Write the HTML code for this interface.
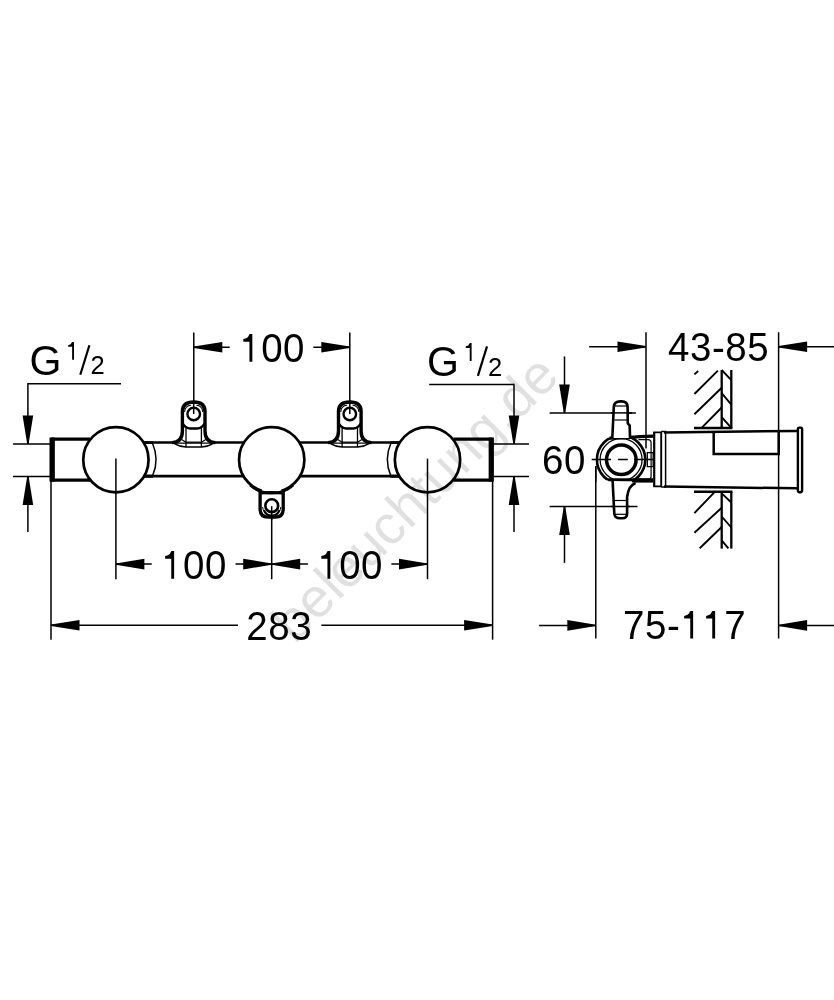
<!DOCTYPE html>
<html><head><meta charset="utf-8"><style>
html,body{margin:0;padding:0;background:#fff;}
body{width:834px;height:1000px;overflow:hidden;}
svg{display:block;will-change:transform;}
text{font-family:"Liberation Sans",sans-serif;fill:#000;stroke:none;}
.g{font-size:42.8px;}
.wm{font-size:55.1px;fill:#000;fill-opacity:0.12;}
</style></head><body>
<svg width="834" height="1000" viewBox="0 0 834 1000" stroke="#000" fill="#000" stroke-linecap="butt">
<line x1="193.80" y1="332.50" x2="193.80" y2="414.00" stroke-width="1.50"/>
<line x1="349.80" y1="332.50" x2="349.80" y2="414.00" stroke-width="1.50"/>
<polygon points="193.80,346.60 222.30,342.00 222.30,352.60 193.80,348.00" stroke="none"/>
<line x1="193.80" y1="347.30" x2="229.70" y2="347.30" stroke-width="1.50"/>
<polygon points="349.80,346.60 321.30,342.00 321.30,352.60 349.80,348.00" stroke="none"/>
<line x1="313.30" y1="347.30" x2="349.80" y2="347.30" stroke-width="1.50"/>
<path d="M0.2513,0 V-0.505 H0.097 V-0.573 Q0.215,-0.586 0.2424,-0.682 L0.26,-0.6995 H0.324 V0 Z" transform="translate(239.50,361.70) scale(39.600)" stroke="none"/><text transform="translate(261.30,361.70) scale(0.950,1)" style="font-size:40.50px">0</text><text transform="translate(283.10,361.70) scale(0.950,1)" style="font-size:40.50px">0</text>
<line x1="115.90" y1="459.00" x2="115.90" y2="579.20" stroke-width="1.50"/>
<line x1="271.70" y1="506.00" x2="271.70" y2="579.20" stroke-width="1.50"/>
<line x1="427.50" y1="459.00" x2="427.50" y2="579.20" stroke-width="1.50"/>
<polygon points="115.90,563.40 144.40,558.80 144.40,569.40 115.90,564.80" stroke="none"/>
<line x1="115.90" y1="564.10" x2="151.80" y2="564.10" stroke-width="1.50"/>
<polygon points="271.70,563.40 243.20,558.80 243.20,569.40 271.70,564.80" stroke="none"/>
<line x1="235.50" y1="564.10" x2="271.70" y2="564.10" stroke-width="1.50"/>
<polygon points="271.70,563.40 300.20,558.80 300.20,569.40 271.70,564.80" stroke="none"/>
<line x1="271.70" y1="564.10" x2="307.90" y2="564.10" stroke-width="1.50"/>
<polygon points="427.50,563.40 399.00,558.80 399.00,569.40 427.50,564.80" stroke="none"/>
<line x1="391.40" y1="564.10" x2="427.50" y2="564.10" stroke-width="1.50"/>
<path d="M0.2513,0 V-0.505 H0.097 V-0.573 Q0.215,-0.586 0.2424,-0.682 L0.26,-0.6995 H0.324 V0 Z" transform="translate(161.30,578.80) scale(39.600)" stroke="none"/><text transform="translate(183.10,578.80) scale(0.950,1)" style="font-size:40.50px">0</text><text transform="translate(204.90,578.80) scale(0.950,1)" style="font-size:40.50px">0</text>
<path d="M0.2513,0 V-0.505 H0.097 V-0.573 Q0.215,-0.586 0.2424,-0.682 L0.26,-0.6995 H0.324 V0 Z" transform="translate(317.50,578.80) scale(39.600)" stroke="none"/><text transform="translate(339.30,578.80) scale(0.950,1)" style="font-size:40.50px">0</text><text transform="translate(361.10,578.80) scale(0.950,1)" style="font-size:40.50px">0</text>
<line x1="51.00" y1="481.00" x2="51.00" y2="639.70" stroke-width="1.50"/>
<line x1="492.60" y1="481.00" x2="492.60" y2="639.70" stroke-width="1.50"/>
<polygon points="51.00,624.50 79.50,619.90 79.50,630.50 51.00,625.90" stroke="none"/>
<line x1="51.00" y1="625.20" x2="238.00" y2="625.20" stroke-width="1.50"/>
<polygon points="492.60,624.50 464.10,619.90 464.10,630.50 492.60,625.90" stroke="none"/>
<line x1="321.30" y1="625.20" x2="492.60" y2="625.20" stroke-width="1.50"/>
<text transform="translate(246.30,639.70) scale(0.950,1)" style="font-size:40.50px">2</text><text transform="translate(268.30,639.70) scale(0.950,1)" style="font-size:40.50px">8</text><text transform="translate(290.30,639.70) scale(0.950,1)" style="font-size:40.50px">3</text>
<line x1="27.90" y1="383.80" x2="121.00" y2="383.80" stroke-width="1.50"/>
<line x1="27.90" y1="383.10" x2="27.90" y2="443.90" stroke-width="1.50"/>
<polygon points="27.20,443.90 22.60,415.40 33.20,415.40 28.60,443.90" stroke="none"/>
<line x1="13.00" y1="443.90" x2="50.00" y2="443.90" stroke-width="1.50"/>
<line x1="13.00" y1="476.40" x2="50.00" y2="476.40" stroke-width="1.50"/>
<polygon points="27.20,476.40 22.60,504.90 33.20,504.90 28.60,476.40" stroke="none"/>
<line x1="27.90" y1="476.40" x2="27.90" y2="532.00" stroke-width="1.50"/>
<text class="g" transform="translate(29.5,374.6) scale(0.959,1)">G</text><path d="M0.2513,0 V-0.505 H0.097 V-0.573 Q0.215,-0.586 0.2424,-0.682 L0.26,-0.6995 H0.324 V0 Z" transform="translate(65.70,359.80) scale(25.600)" stroke="none"/><text transform="translate(90.50,374.40) scale(1.000,1)" style="font-size:25.50px">2</text>
<line x1="80.30" y1="374.70" x2="89.40" y2="345.20" stroke-width="2.20"/>
<line x1="429.20" y1="384.50" x2="514.00" y2="384.50" stroke-width="1.50"/>
<line x1="514.00" y1="383.80" x2="514.00" y2="443.90" stroke-width="1.50"/>
<polygon points="513.30,443.90 508.70,415.40 519.30,415.40 514.70,443.90" stroke="none"/>
<line x1="493.00" y1="443.90" x2="529.00" y2="443.90" stroke-width="1.50"/>
<line x1="493.00" y1="476.40" x2="529.00" y2="476.40" stroke-width="1.50"/>
<polygon points="513.30,476.40 508.70,504.90 519.30,504.90 514.70,476.40" stroke="none"/>
<line x1="514.00" y1="476.40" x2="514.00" y2="532.00" stroke-width="1.50"/>
<text class="g" transform="translate(427.1,375.8) scale(0.959,1)">G</text><path d="M0.2513,0 V-0.505 H0.097 V-0.573 Q0.215,-0.586 0.2424,-0.682 L0.26,-0.6995 H0.324 V0 Z" transform="translate(463.30,361.00) scale(25.600)" stroke="none"/><text transform="translate(488.10,375.60) scale(1.000,1)" style="font-size:25.50px">2</text>
<line x1="477.90" y1="375.90" x2="487.00" y2="346.40" stroke-width="2.20"/>
<path d="M90,439.15 H53 V480.1 H90" stroke-width="3.20" fill="none"/>
<rect x="49.5" y="437.5" width="5.1" height="44.1" stroke="none"/>
<path d="M453.4,439.15 H490.4 V480.1 H453.4" stroke-width="3.20" fill="none"/>
<rect x="488.8" y="437.5" width="5.1" height="44.1" stroke="none"/>
<line x1="140.00" y1="442.60" x2="404.00" y2="442.60" stroke-width="2.50"/>
<line x1="140.00" y1="476.20" x2="404.00" y2="476.20" stroke-width="2.80"/>
<path d="M152.5,443.3 Q159.6,459.5 152.7,475.5" stroke-width="1.50" fill="none"/>
<path d="M390.9,443.3 Q383.8,459.5 390.7,475.5" stroke-width="1.50" fill="none"/>
<line x1="144.00" y1="442.60" x2="153.00" y2="442.60" stroke-width="2.60"/>
<line x1="144.00" y1="476.20" x2="153.00" y2="476.20" stroke-width="3.00"/>
<line x1="390.40" y1="442.60" x2="399.40" y2="442.60" stroke-width="2.60"/>
<line x1="390.40" y1="476.20" x2="399.40" y2="476.20" stroke-width="3.00"/>
<circle cx="115.90" cy="459.70" r="32.65" stroke-width="2.7" fill="#fff"/>
<circle cx="271.70" cy="459.70" r="32.65" stroke-width="2.7" fill="#fff"/>
<circle cx="427.50" cy="459.70" r="32.65" stroke-width="2.7" fill="#fff"/>
<line x1="115.90" y1="458.60" x2="115.90" y2="494.00" stroke-width="1.50"/>
<line x1="427.50" y1="458.60" x2="427.50" y2="494.00" stroke-width="1.50"/>
<g transform="translate(0.00,0)"><path d="M174,442.6 C180.5,442.2 182.4,437 182.4,431 V411.5 Q182.4,402 193.7,402 Q205,402 205,411.5 V431 C205,437 206.9,442.2 213.4,442.6 Z" stroke-width="0.00" fill="#fff" stroke="none"/><path d="M172,442.6 C180.5,442.2 182.4,437 182.4,431 V411.5 Q182.4,402 193.7,402 Q205,402 205,411.5 V431 C205,437 206.9,442.2 215.4,442.6" stroke-width="3.40" fill="none"/><path d="M183.6,409 Q183.6,402.6 193.7,402.6 Q203.8,402.6 203.8,409" stroke-width="2.00" fill="none"/><path d="M186,447 V426 M201.4,447 V426" stroke-width="1.30" fill="none"/><path d="M184.6,412 Q185.2,405.6 191,405.3 M196.4,405.3 Q202.2,405.6 202.8,412" stroke-width="1.10" fill="none"/><circle cx="193.7" cy="414" r="6.3" stroke-width="2.4" fill="#fff"/><path d="M182.6,423.6 Q186,428.4 190,428.4 H197.4 Q201.4,428.4 204.8,423.6" stroke-width="2.50" fill="none"/><path d="M185.9,442.2 H201.5" stroke-width="1.30" fill="none"/><path d="M181.6,439.5 L185.9,442.2 M205.8,439.5 L201.5,442.2" stroke-width="1.20" fill="none"/><path d="M174.5,443.6 Q180,447 185.9,447 H201.5 Q207.4,447 212.9,443.6" stroke-width="1.70" fill="none"/><line x1="193.70" y1="401.00" x2="193.70" y2="414.00" stroke-width="1.50"/></g>
<g transform="translate(156.10,0)"><path d="M174,442.6 C180.5,442.2 182.4,437 182.4,431 V411.5 Q182.4,402 193.7,402 Q205,402 205,411.5 V431 C205,437 206.9,442.2 213.4,442.6 Z" stroke-width="0.00" fill="#fff" stroke="none"/><path d="M172,442.6 C180.5,442.2 182.4,437 182.4,431 V411.5 Q182.4,402 193.7,402 Q205,402 205,411.5 V431 C205,437 206.9,442.2 215.4,442.6" stroke-width="3.40" fill="none"/><path d="M183.6,409 Q183.6,402.6 193.7,402.6 Q203.8,402.6 203.8,409" stroke-width="2.00" fill="none"/><path d="M186,447 V426 M201.4,447 V426" stroke-width="1.30" fill="none"/><path d="M184.6,412 Q185.2,405.6 191,405.3 M196.4,405.3 Q202.2,405.6 202.8,412" stroke-width="1.10" fill="none"/><circle cx="193.7" cy="414" r="6.3" stroke-width="2.4" fill="#fff"/><path d="M182.6,423.6 Q186,428.4 190,428.4 H197.4 Q201.4,428.4 204.8,423.6" stroke-width="2.50" fill="none"/><path d="M185.9,442.2 H201.5" stroke-width="1.30" fill="none"/><path d="M181.6,439.5 L185.9,442.2 M205.8,439.5 L201.5,442.2" stroke-width="1.20" fill="none"/><path d="M174.5,443.6 Q180,447 185.9,447 H201.5 Q207.4,447 212.9,443.6" stroke-width="1.70" fill="none"/><line x1="193.70" y1="401.00" x2="193.70" y2="414.00" stroke-width="1.50"/></g>
<path d="M260.1,489 V509 Q260.1,517.1 268,517.1 H275.5 Q283.2,517.1 283.2,509 V489" stroke-width="3.30" fill="#fff"/>
<path d="M264,510 Q265.5,515.6 271.7,515.6 Q277.9,515.6 279.4,510" stroke-width="2.20" fill="none"/>
<path d="M261,493.2 Q271.7,491.8 282.4,493.2" stroke-width="2.80" fill="none"/>
<path d="M262.6,507 Q263.2,512.6 267.5,513.6 M280.8,507 Q280.2,512.6 275.9,513.6" stroke-width="1.00" fill="none"/>
<circle cx="271.75" cy="505.7" r="6.4" stroke-width="2.6" fill="#fff"/>
<line x1="271.70" y1="506.20" x2="271.70" y2="520.00" stroke-width="1.50"/>
<path d="M250,485 A32.65,32.65 0 0 0 293.4,485" stroke-width="2.7" fill="none"/>
<line x1="646.00" y1="332.20" x2="646.00" y2="435.20" stroke-width="1.50"/>
<line x1="778.60" y1="332.20" x2="778.60" y2="638.50" stroke-width="1.50"/>
<line x1="589.10" y1="346.80" x2="646.00" y2="346.80" stroke-width="1.50"/>
<polygon points="646.00,346.10 617.50,341.50 617.50,352.10 646.00,347.50" stroke="none"/>
<line x1="778.60" y1="346.80" x2="834.00" y2="346.80" stroke-width="1.50"/>
<polygon points="778.60,346.10 807.10,341.50 807.10,352.10 778.60,347.50" stroke="none"/>
<text transform="translate(668.00,361.00) scale(0.950,1)" style="font-size:40.50px">4</text><text transform="translate(690.00,361.00) scale(0.950,1)" style="font-size:40.50px">3</text><text transform="translate(712.00,361.00) scale(0.950,1)" style="font-size:40.50px">-</text><text transform="translate(725.20,361.00) scale(0.950,1)" style="font-size:40.50px">8</text><text transform="translate(747.20,361.00) scale(0.950,1)" style="font-size:40.50px">5</text>
<line x1="564.50" y1="356.40" x2="564.50" y2="412.90" stroke-width="1.50"/>
<polygon points="563.80,412.90 559.20,384.40 569.80,384.40 565.20,412.90" stroke="none"/>
<line x1="549.60" y1="412.90" x2="635.90" y2="412.90" stroke-width="1.50"/>
<line x1="549.60" y1="506.50" x2="637.50" y2="506.50" stroke-width="1.50"/>
<polygon points="563.80,506.50 559.20,535.00 569.80,535.00 565.20,506.50" stroke="none"/>
<line x1="564.50" y1="506.50" x2="564.50" y2="562.90" stroke-width="1.50"/>
<text transform="translate(542.00,474.10) scale(0.950,1)" style="font-size:40.50px">6</text><text transform="translate(564.00,474.10) scale(0.950,1)" style="font-size:40.50px">0</text>
<line x1="595.80" y1="466.00" x2="595.80" y2="638.50" stroke-width="1.50"/>
<line x1="539.10" y1="625.40" x2="595.80" y2="625.40" stroke-width="1.50"/>
<polygon points="595.80,624.70 567.30,620.10 567.30,630.70 595.80,626.10" stroke="none"/>
<line x1="778.60" y1="625.40" x2="834.00" y2="625.40" stroke-width="1.50"/>
<polygon points="778.60,624.70 807.10,620.10 807.10,630.70 778.60,626.10" stroke="none"/>
<text transform="translate(623.10,638.60) scale(0.950,1)" style="font-size:40.50px">7</text><text transform="translate(645.10,638.60) scale(0.950,1)" style="font-size:40.50px">5</text><text transform="translate(667.10,638.60) scale(0.950,1)" style="font-size:40.50px">-</text><path d="M0.2513,0 V-0.505 H0.097 V-0.573 Q0.215,-0.586 0.2424,-0.682 L0.26,-0.6995 H0.324 V0 Z" transform="translate(680.30,638.60) scale(39.600)" stroke="none"/><path d="M0.2513,0 V-0.505 H0.097 V-0.573 Q0.215,-0.586 0.2424,-0.682 L0.26,-0.6995 H0.324 V0 Z" transform="translate(702.30,638.60) scale(39.600)" stroke="none"/><text transform="translate(724.30,638.60) scale(0.950,1)" style="font-size:40.50px">7</text>
<line x1="721.70" y1="370.00" x2="721.70" y2="428.00" stroke-width="2.30"/><line x1="731.30" y1="370.00" x2="731.30" y2="428.00" stroke-width="2.30"/><line x1="694.00" y1="428.00" x2="732.40" y2="428.00" stroke-width="2.40"/>
<line x1="721.70" y1="491.70" x2="721.70" y2="548.60" stroke-width="2.30"/><line x1="731.30" y1="491.70" x2="731.30" y2="548.60" stroke-width="2.30"/><line x1="694.00" y1="491.70" x2="732.40" y2="491.70" stroke-width="2.40"/>
<path d="M694.4,394 L717.9,370.6 M694.4,414.2 L721.7,387.8 M701.6,427.9 L721.7,407.5 M694.4,374.4 L698.2,371 M721.7,370 L731.3,380.1 M721.7,393.1 L731.3,404.6 M721.7,417.1 L731.3,427.9" stroke-width="1.90" fill="none"/>
<path d="M694.4,513.1 L715,491.7 M694.4,532.8 L721.7,507.8 M699.7,548.3 L721.7,527 M721.7,493.4 L731.3,502.5 M721.7,516.5 L731.3,527.5 M721.7,540.4 L728.4,548.3" stroke-width="1.90" fill="none"/>
<path d="M664,432.4 L797,430.9 M664,486.6 L797,488.3" stroke-width="2.50" fill="none"/>
<path d="M713.7,432 V454.1 H778.7 V431.3" stroke-width="2.50" fill="none"/>
<rect x="797.9" y="427.6" width="4.2" height="64.6" rx="1.6" stroke-width="2.4" fill="#fff"/>
<path d="M654.2,432.4 V486.4" stroke-width="2.20" fill="none"/>
<path d="M653.2,432.4 H661.2 V486.4 H653.2" stroke-width="1.90" fill="none"/>
<path d="M661.2,431.6 H665.6 V487 H661.2" stroke-width="1.50" fill="none"/>
<clipPath id="rc"><rect x="590" y="437.6" width="70" height="42.8"/></clipPath>
<circle cx="621.1" cy="459.6" r="24.2" stroke-width="2.6" fill="#fff" clip-path="url(#rc)"/>
<path d="M609.5,438.1 Q630,437.6 640,436.6 L653.2,436.1" stroke-width="3.40" fill="none"/>
<path d="M608.2,479.7 H653.2" stroke-width="3.00" fill="none"/>
<path d="M632,481.5 H653.2" stroke-width="2.20" fill="none"/>
<path d="M638.4,439.6 H648 Q651.1,439.6 651.1,443 V476.4 Q651.1,479.2 648,479.2 H638" stroke-width="1.20" fill="none"/>
<path d="M647.3,452.6 H653.2 V466.6 H647.3 Z" stroke-width="1.30" fill="none"/>
<line x1="646.00" y1="435.00" x2="646.00" y2="448.50" stroke-width="1.50"/>
<circle cx="621.1" cy="459.6" r="21.0" stroke-width="1.3" fill="none" clip-path="url(#rc)"/>
<circle cx="621.3" cy="459.8" r="14.8" stroke-width="3.5" fill="#fff"/>
<path d="M591.7,459.5 H611 M618.1,459.5 H627.8 M634,459.5 H653.2" stroke-width="1.30" fill="none"/>
<path d="M612.3,438 L613.8,407 Q614,401.4 620.5,401.4 L621.5,401.4 Q627.6,401.4 627.6,407 L627.8,423.5 L629.7,425.5 L630,438" stroke-width="2.60" fill="#fff"/>
<line x1="615.00" y1="406.00" x2="627.00" y2="406.00" stroke-width="1.20"/>
<line x1="614.50" y1="420.00" x2="628.00" y2="420.00" stroke-width="1.20"/>
<line x1="611.00" y1="412.90" x2="632.00" y2="412.90" stroke-width="1.50"/>
<path d="M612.6,481 L614.3,513.5 Q614.6,518.3 620,518.3 L622.5,518.3 Q627.1,518.3 627.1,513.5 L627.1,497 Q628.5,485.5 635.6,483" stroke-width="2.60" fill="#fff"/>
<line x1="614.00" y1="500.50" x2="627.00" y2="500.50" stroke-width="1.20"/>
<line x1="614.50" y1="514.30" x2="627.00" y2="514.30" stroke-width="1.20"/>
<line x1="611.00" y1="506.50" x2="630.00" y2="506.50" stroke-width="1.50"/>
<line x1="595.80" y1="466.00" x2="595.80" y2="482.00" stroke-width="1.50"/>
<text class="wm" x="0" y="0" transform="translate(294.8,644.7) rotate(-45)">beleuchtung.de</text>
</svg>
</body></html>
